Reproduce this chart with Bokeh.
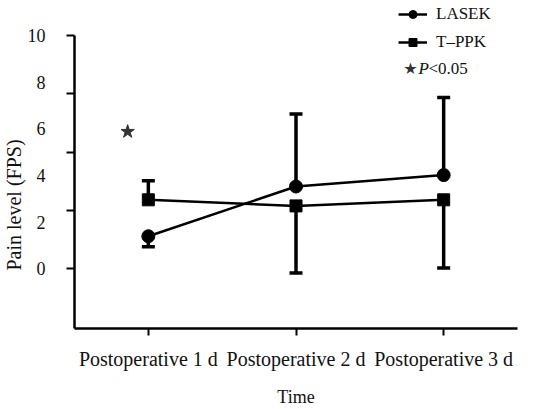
import math
from bokeh.plotting import figure
from bokeh.models import (Range1d, FixedTicker, Whisker, TeeHead, ColumnDataSource,
                          Legend, LegendItem, Label, Title)
from bokeh.embed import file_html
from bokeh.resources import INLINE

# ---------------- data ----------------
categories = ["Postoperative 1 d", "Postoperative 2 d", "Postoperative 3 d"]
x_pos = [1, 2, 3]
lasek_mean = [1.40, 3.53, 4.02]
lasek_sd = [0.45, 3.10, 3.32]
lasek_dir = [-1, 1, 1]          # which side of the mean the error bar is drawn
tppk_mean = [2.96, 2.70, 2.96]
tppk_sd = [0.82, 2.87, 2.92]
tppk_dir = [1, -1, -1]
star_x = [0.86]
star_y = [5.88]
y_labels = [0, 2, 4, 6, 8, 10]
y_marks = [0, 2.5, 5, 7.5, 10]

FONT = "Liberation Serif"

p = figure(width=546, height=409, output_backend="svg", toolbar_location=None,
           x_range=Range1d(0.5, 3.5), y_range=Range1d(-2.55, 11.494),
           min_border_left=74, min_border_right=29, min_border_top=0, min_border_bottom=0)
p.outline_line_color = None
p.grid.visible = False
p.background_fill_color = "white"
p.border_fill_color = "white"

# x axis
xa = p.xaxis[0]
xa.ticker = FixedTicker(ticks=x_pos)
xa.major_label_overrides = {x: c for x, c in zip(x_pos, categories)}
xa.major_tick_out = 7
xa.major_tick_in = 0
xa.minor_tick_out = 0
xa.minor_tick_in = 0
xa.axis_line_width = 2.5
xa.major_tick_line_width = 2
xa.major_label_text_font = FONT
xa.major_label_text_font_size = "20px"
xa.major_label_text_color = "#111111"
xa.major_label_standoff = 12
xa.axis_label = "Time"
xa.axis_label_text_font = FONT
xa.axis_label_text_font_style = "normal"
xa.axis_label_text_font_size = "18px"
xa.axis_label_text_color = "#111111"
xa.axis_label_standoff = 14

# y axis
ya = p.yaxis[0]
ya.ticker = FixedTicker(ticks=y_labels, minor_ticks=y_marks)
ya.bounds = (-2.55, 10)
ya.major_tick_out = 0
ya.major_tick_in = 0
ya.minor_tick_out = 8
ya.minor_tick_in = 0
ya.minor_tick_line_width = 2
ya.minor_tick_line_color = "black"
ya.axis_line_width = 2.5
ya.major_label_text_font = FONT
ya.major_label_text_font_size = "18px"
ya.major_label_text_color = "#111111"
ya.major_label_standoff = 21

# y axis title, placed in the left panel
p.add_layout(Title(text="Pain level (FPS)", align="left", offset=58,
                   text_font=FONT, text_font_size="20px", text_font_style="normal",
                   text_color="#111111", standoff=0), "left")

# error bars (one-sided)
ux, ulo, uhi, dx, dlo, dhi = [], [], [], [], [], []
for means, sds, dirs in ((lasek_mean, lasek_sd, lasek_dir), (tppk_mean, tppk_sd, tppk_dir)):
    for x, m, s, d in zip(x_pos, means, sds, dirs):
        if d > 0:
            ux.append(x); ulo.append(m); uhi.append(m + s)
        else:
            dx.append(x); dlo.append(m - s); dhi.append(m)

up_src = ColumnDataSource(dict(base=ux, lower=ulo, upper=uhi))
dn_src = ColumnDataSource(dict(base=dx, lower=dlo, upper=dhi))
p.add_layout(Whisker(source=up_src, base="base", lower="lower", upper="upper",
                     dimension="height", line_width=3.5, line_color="black",
                     upper_head=TeeHead(size=13, line_width=3.5, line_color="black"),
                     lower_head=None))
p.add_layout(Whisker(source=dn_src, base="base", lower="lower", upper="upper",
                     dimension="height", line_width=3.5, line_color="black",
                     lower_head=TeeHead(size=13, line_width=3.5, line_color="black"),
                     upper_head=None))

# series
l1 = p.line(x_pos, lasek_mean, line_width=2.5, line_color="black")
s1 = p.scatter(x_pos, lasek_mean, marker="circle", size=13, color="black")
l2 = p.line(x_pos, tppk_mean, line_width=2.5, line_color="black")
s2 = p.scatter(x_pos, tppk_mean, marker="square", size=12, color="black")

# significance star
p.scatter(star_x, star_y, marker="star", size=14, color="#333333")

legend = Legend(items=[LegendItem(label="LASEK", renderers=[l1, s1]),
                       LegendItem(label="T–PPK", renderers=[l2, s2])],
                location=(324, 276), glyph_width=29, glyph_height=20,
                label_text_font=FONT, label_text_font_size="17px",
                label_text_color="#111111",
                border_line_alpha=0, background_fill_alpha=0,
                padding=0, margin=0, spacing=8, label_standoff=9)
p.add_layout(legend)

# third legend row: star  P<0.05
p.add_layout(Label(x=336, y=260, x_units="screen", y_units="screen", text="★",
                   text_font="DejaVu Sans", text_font_size="16px", text_color="#333333",
                   text_align="center", text_baseline="middle"))
p.add_layout(Label(x=344, y=260, x_units="screen", y_units="screen", text="P",
                   text_font=FONT, text_font_size="17px", text_font_style="italic",
                   text_color="#111111", text_align="left", text_baseline="middle"))
p.add_layout(Label(x=354, y=260, x_units="screen", y_units="screen", text="<0.05",
                   text_font=FONT, text_font_size="17px",
                   text_color="#111111", text_align="left", text_baseline="middle"))

open("out.html", "w").write(file_html(p, INLINE))
